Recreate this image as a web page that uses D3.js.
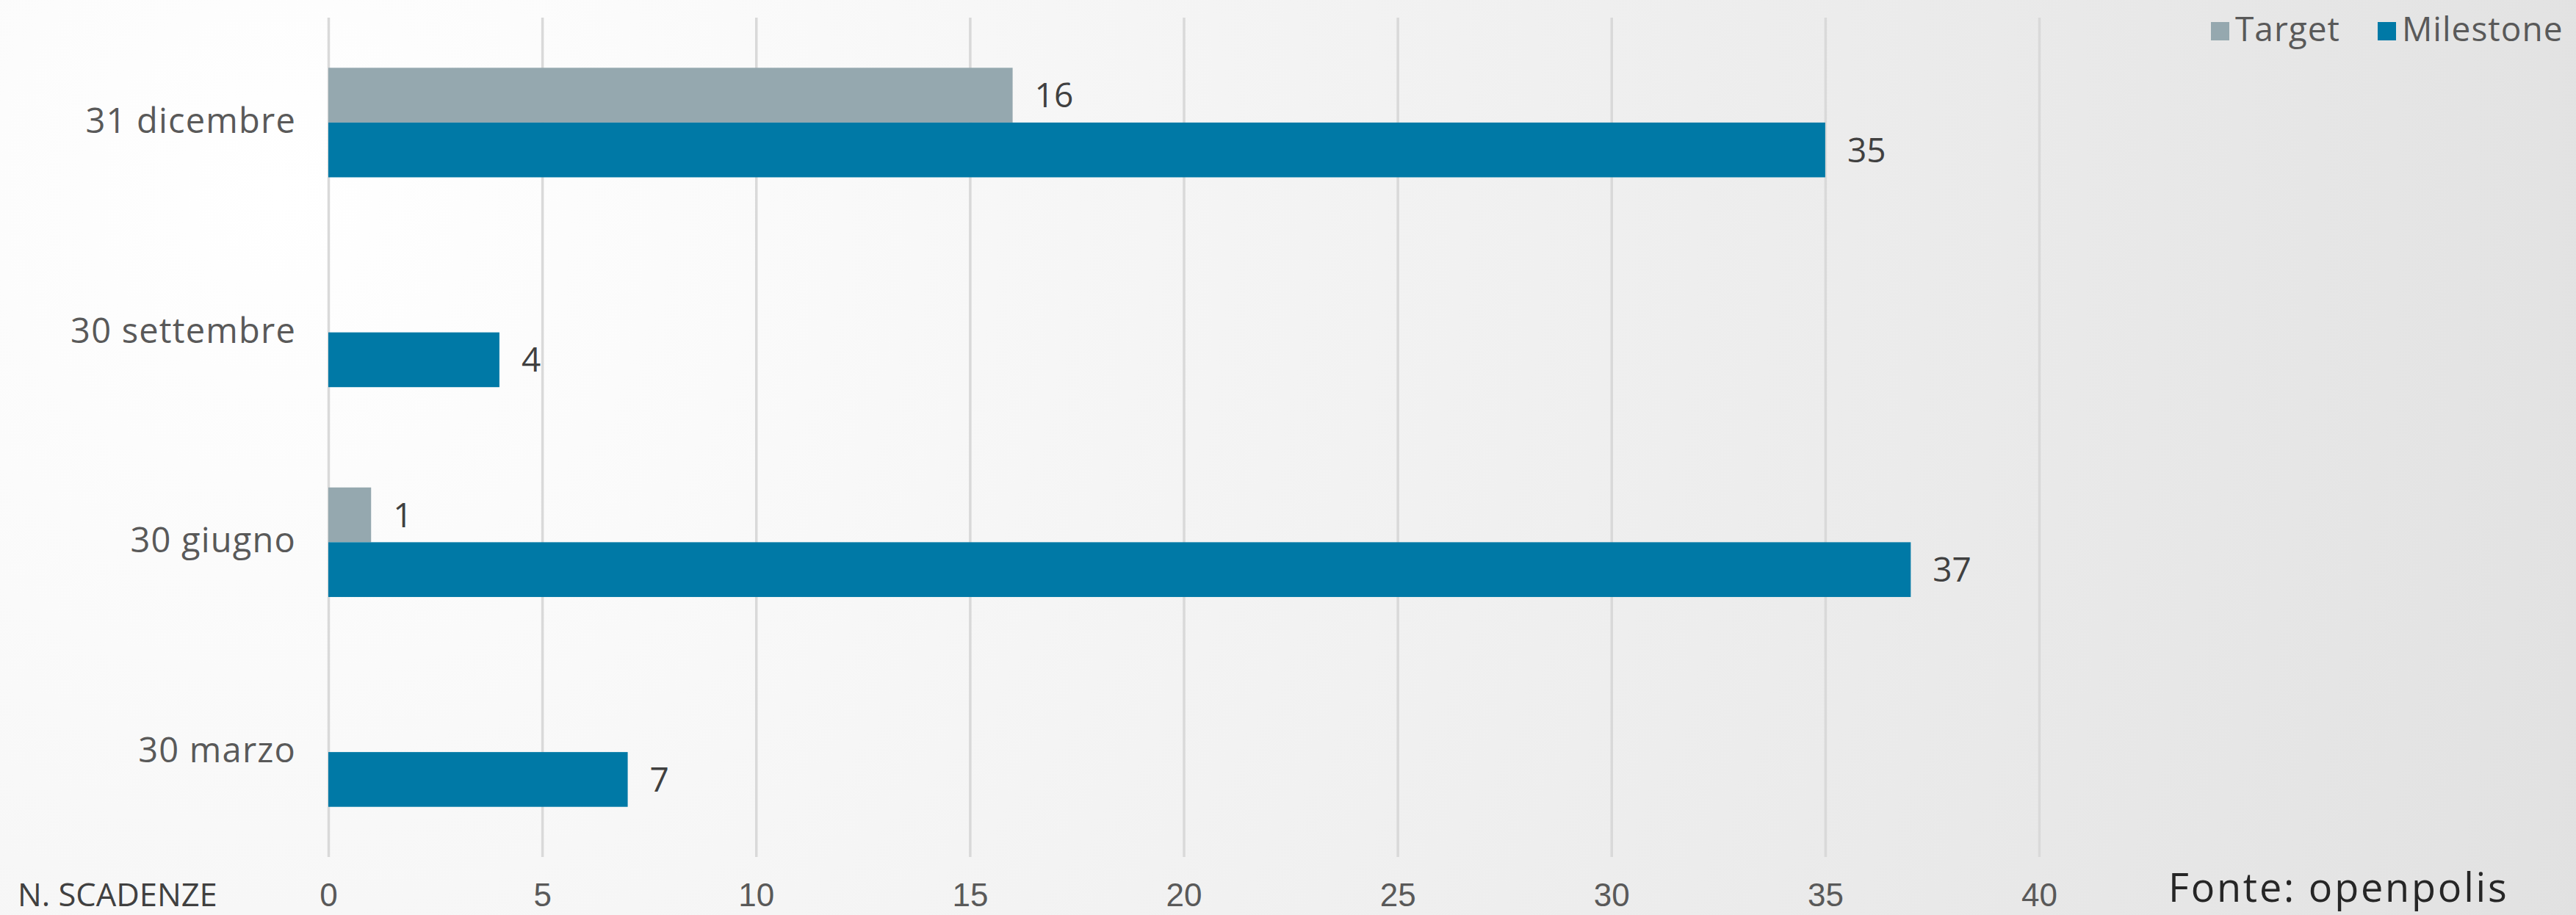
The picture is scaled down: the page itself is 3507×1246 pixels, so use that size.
<!DOCTYPE html>
<html>
<head>
<meta charset="utf-8">
<script src="https://cdn.jsdelivr.net/npm/d3@7"></script>
<style>
  html, body { margin: 0; padding: 0; background: #f4f4f4; }
  svg { display: block; font-family: "Open Sans", "Noto Sans", sans-serif; }
</style>
</head>
<body>
<svg id="chart" width="3507" height="1246"></svg>
<script>
// Data
var categories = ["31 dicembre", "30 settembre", "30 giugno", "30 marzo"];
var seriesNames = ["Target", "Milestone"];
var targetValues = [16, 0, 1, 0];
var milestoneValues = [35, 4, 37, 7];
var xTicks = [0, 5, 10, 15, 20, 25, 30, 35, 40];
var seriesColors = ["#95a8af", "#0079a6"];

var width = 3507, height = 1246;
var plot = { left: 447, right: 2776, top: 24, bottom: 1167 };

var svg = d3.select("#chart");

// Background: soft radial light from the upper left
var defs = svg.append("defs");
var grad = defs.append("radialGradient")
    .attr("id", "bg")
    .attr("gradientUnits", "userSpaceOnUse")
    .attr("cx", 380).attr("cy", 260).attr("r", 3300);
grad.append("stop").attr("offset", "0").attr("stop-color", "#ffffff");
grad.append("stop").attr("offset", "0.2").attr("stop-color", "#fafafa");
grad.append("stop").attr("offset", "1").attr("stop-color", "#e1e1e1");
svg.append("rect").attr("width", width).attr("height", height).attr("fill", "url(#bg)");

// Scales
var x = d3.scaleLinear().domain([0, 40]).range([plot.left, plot.right]);
var y0 = d3.scaleBand().domain(categories).range([plot.top, plot.bottom]);
var groupH = y0.bandwidth() * 0.522;
var y1 = d3.scaleBand().domain(seriesNames).range([0, groupH]);
var groupOffset = (y0.bandwidth() - groupH) / 2;

// Gridlines + tick labels through the axis
var xAxis = svg.append("g")
    .attr("transform", "translate(0," + plot.bottom + ")")
    .call(d3.axisBottom(x).tickValues(xTicks).tickSize(-(plot.bottom - plot.top)).tickFormat(d3.format("d")));
xAxis.select(".domain").remove();
xAxis.selectAll(".tick line")
    .attr("stroke", "#d9d9d9")
    .attr("stroke-width", 3.5);
xAxis.selectAll(".tick text")
    .attr("y", 67)
    .attr("dy", null)
    .attr("fill", "#595959")
    .style("font-size", "44px");

// Rows
var rows = categories.map(function(c, i) {
    return { cat: c, values: [targetValues[i], milestoneValues[i]] };
});

var groups = svg.selectAll("g.row")
    .data(rows)
    .enter().append("g")
    .attr("class", "row")
    .attr("transform", function(d) { return "translate(0," + (y0(d.cat) + groupOffset) + ")"; });

var cells = groups.selectAll("g.cell")
    .data(function(d) {
        return d.values.map(function(v, j) { return { name: seriesNames[j], value: v, color: seriesColors[j] }; })
            .filter(function(e) { return e.value > 0; });
    })
    .enter().append("g").attr("class", "cell");

cells.append("rect")
    .attr("x", x(0))
    .attr("y", function(d) { return y1(d.name); })
    .attr("width", function(d) { return x(d.value) - x(0); })
    .attr("height", y1.bandwidth())
    .attr("fill", function(d) { return d.color; });

// Value labels
cells.append("text")
    .attr("x", function(d) { return x(d.value) + 30; })
    .attr("y", function(d) { return y1(d.name) + y1.bandwidth() / 2; })
    .attr("dy", "0.36em")
    .attr("fill", "#404040")
    .style("font-size", "46px")
    .text(function(d) { return d.value; });

// Category labels
svg.selectAll("text.cat")
    .data(categories)
    .enter().append("text")
    .attr("class", "cat")
    .attr("x", plot.left - 44)
    .attr("y", function(d) { return y0(d) + y0.bandwidth() / 2; })
    .attr("dy", "0.3em")
    .attr("text-anchor", "end")
    .attr("fill", "#595959")
    .style("font-size", "47px")
    .style("letter-spacing", "1.2px")
    .text(function(d) { return d; });

// Legend
var legendX = [3010, 3237];
var legend = svg.selectAll("g.legend")
    .data(seriesNames)
    .enter().append("g")
    .attr("class", "legend")
    .attr("transform", function(d, i) { return "translate(" + legendX[i] + ",30)"; });
legend.append("rect")
    .attr("width", 25).attr("height", 25)
    .attr("fill", function(d, i) { return seriesColors[i]; });
legend.append("text")
    .attr("x", 33).attr("y", 26)
    .attr("fill", "#595959")
    .style("font-size", "46px")
    .style("letter-spacing", "1px")
    .text(function(d) { return d; });

// Axis title and source
svg.append("text")
    .attr("x", 24).attr("y", 1234)
    .attr("fill", "#404040")
    .style("font-size", "43.5px")
    .text("N. SCADENZE");

svg.append("text")
    .attr("x", 2952).attr("y", 1228)
    .attr("fill", "#262626")
    .style("font-size", "54px")
    .style("letter-spacing", "2.8px")
    .text("Fonte: openpolis");
</script>
</body>
</html>
